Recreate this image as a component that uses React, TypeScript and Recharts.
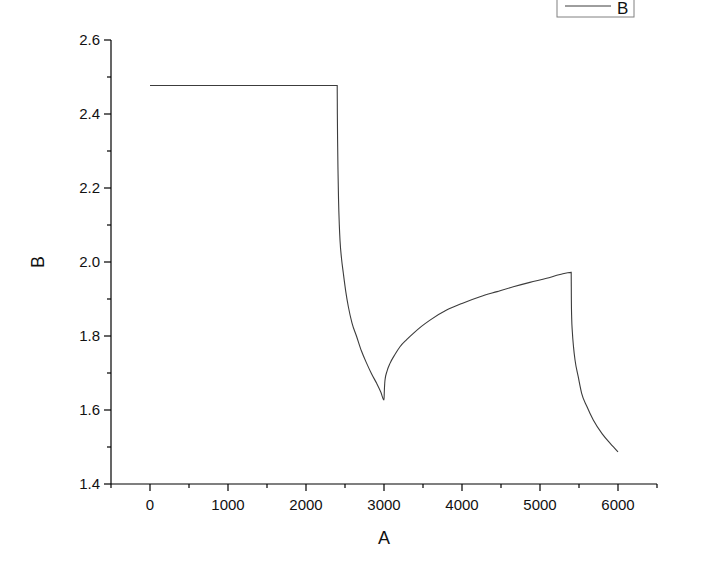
import { LineChart, Line, XAxis, YAxis } from 'recharts';

// values (A = x, B = y)
const flatA = [0, 2400];
const flatB = [2.477, 2.477];

const drop1A = [2402, 2405, 2410, 2417, 2427, 2436, 2455, 2479, 2510, 2543, 2590, 2650, 2710, 2778, 2840, 2906, 2960, 3000];
const drop1B = [2.4, 2.33, 2.25, 2.17, 2.1, 2.059, 2.01, 1.969, 1.92, 1.879, 1.835, 1.798, 1.76, 1.726, 1.698, 1.672, 1.648, 1.627];

const riseA = [3004, 3013, 3040, 3077, 3140, 3205, 3290, 3376, 3480, 3590, 3803, 4000, 4231, 4450, 4658, 4870, 5085, 5256, 5400];
const riseB = [1.65, 1.681, 1.706, 1.726, 1.75, 1.771, 1.79, 1.807, 1.826, 1.843, 1.87, 1.888, 1.906, 1.92, 1.933, 1.945, 1.956, 1.966, 1.972];

const drop2A = [5402, 5406, 5415, 5430, 5449, 5490, 5534, 5600, 5683, 5800, 5900, 6000];
const drop2B = [1.9, 1.85, 1.81, 1.77, 1.735, 1.69, 1.645, 1.61, 1.573, 1.535, 1.51, 1.487];

const xTicks = [-500, 0, 500, 1000, 1500, 2000, 2500, 3000, 3500, 4000, 4500, 5000, 5500, 6000, 6500];
const yTicks = [1.4, 1.5, 1.6, 1.7, 1.8, 1.9, 2.0, 2.1, 2.2, 2.3, 2.4, 2.5, 2.6];

const allA = [...flatA, ...drop1A, ...riseA, ...drop2A];
const allB = [...flatB, ...drop1B, ...riseB, ...drop2B];
const data = allA.map((a, i) => ({ A: a, B: allB[i] }));

const FONT = '"Liberation Sans", Arial, sans-serif';

// eslint-disable-next-line @typescript-eslint/no-explicit-any
function XTick({ x, y, payload }: any) {
  const v = payload.value;
  const major = v % 1000 === 0 && v >= 0 && v <= 6000;
  return (
    <g>
      <line x1={x} x2={x} y1={y} y2={y + (major ? 7 : 4)} stroke="#000" strokeWidth={1.2} />
      {major && (
        <text x={x} y={y + 26} textAnchor="middle" fontSize={15} fontFamily={FONT} fill="#111">
          {v}
        </text>
      )}
    </g>
  );
}

// eslint-disable-next-line @typescript-eslint/no-explicit-any
function YTick({ x, y, payload }: any) {
  const v = payload.value;
  const major = Math.round(v * 10) % 2 === 0;
  return (
    <g>
      <line x1={x} x2={x - (major ? 7 : 4)} y1={y} y2={y} stroke="#000" strokeWidth={1.2} />
      {major && (
        <text x={x - 11} y={y} dy="0.36em" textAnchor="end" fontSize={15} fontFamily={FONT} fill="#111">
          {v.toFixed(1)}
        </text>
      )}
    </g>
  );
}

export default function App() {
  return (
    <div style={{ position: 'fixed', top: 0, left: 0, width: 705, height: 561, background: '#fff' }}>
      <LineChart
        width={705}
        height={561}
        data={data}
        margin={{ top: 40, right: 48, bottom: 0, left: 0 }}
      >
        <XAxis
          dataKey="A"
          type="number"
          domain={[-500, 6500]}
          ticks={xTicks}
          interval={0}
          height={77}
          tickSize={0}
          tickMargin={0}
          tickLine={false}
          tick={<XTick />}
          axisLine={{ stroke: '#000', strokeWidth: 1.2 }}
          allowDataOverflow
          label={{ value: 'A', position: 'insideBottom', offset: 17, fontSize: 18, fontFamily: FONT, fill: '#111' }}
        />
        <YAxis
          type="number"
          domain={[1.4, 2.6]}
          ticks={yTicks}
          interval={0}
          width={111}
          tickSize={0}
          tickMargin={0}
          tickLine={false}
          tick={<YTick />}
          axisLine={{ stroke: '#000', strokeWidth: 1.2 }}
          allowDataOverflow
          label={{
            value: 'B', angle: -90, position: 'insideLeft', offset: 38,
            fontSize: 18, fontFamily: FONT, fill: '#111', style: { textAnchor: 'middle' },
          }}
        />
        <Line
          type="monotone"
          dataKey="B"
          stroke="#3c3c3c"
          strokeWidth={1.1}
          dot={false}
          isAnimationActive={false}
        />
      </LineChart>
      <svg
        width={80}
        height={20}
        style={{ position: 'absolute', left: 556, top: 0 }}
      >
        <rect x={1} y={-2} width={77} height={19} fill="#fff" stroke="#808080" strokeWidth={1} />
        <line x1={9} x2={55} y1={6} y2={6} stroke="#3c3c3c" strokeWidth={1} />
        <text x={61} y={13.5} fontSize={17} fontFamily={FONT} fill="#111">B</text>
      </svg>
    </div>
  );
}
